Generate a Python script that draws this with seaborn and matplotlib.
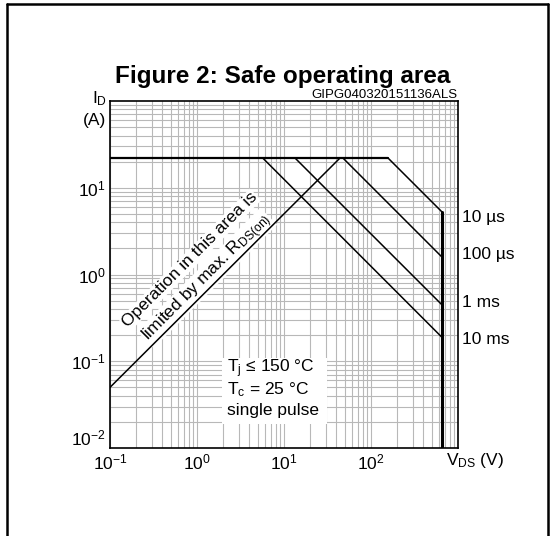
import numpy as np
import pandas as pd
import matplotlib
matplotlib.use("Agg")
import matplotlib.pyplot as plt
import seaborn as sns
from matplotlib.ticker import LogLocator, FixedLocator, FixedFormatter, NullFormatter
from matplotlib.lines import Line2D
from matplotlib.patches import Rectangle
import matplotlib.transforms as mtransforms

# ---------------- data ----------------
# current limit (A) and voltage rating (V)
id_max = 22.0
vds_max = 650.0
# R_DS(on) limit line: V_DS (V), I_D (A)
rds_v = [0.1, 44.0]
rds_i = [0.05, 22.0]
# current limit horizontal line
lim_v = [0.1, 157.0]
lim_i = [22.0, 22.0]
# pulse-width limit lines (start V on the current limit, end at V_DS max)
pulse_labels = ["10 µs", "100 µs", "1 ms", "10 ms"]
pulse_v_start = [157.0, 47.6, 13.4, 5.7]
pulse_i_end = [5.3, 1.6, 0.45, 0.19]
pulse_label_y = [4.6, 1.72, 0.48, 0.176]
# vertical V_DS max line
vert_v = [650.0, 650.0]
vert_i = [0.01, 5.3]

xtick_vals = [0.1, 1, 10, 100]
xtick_labels = [r"$\mathregular{10^{-1}}$", r"$\mathregular{10^{0}}$",
                r"$\mathregular{10^{1}}$", r"$\mathregular{10^{2}}$"]
ytick_vals = [0.01, 0.1, 1, 10]
ytick_labels = [r"$\mathregular{10^{-2}}$", r"$\mathregular{10^{-1}}$",
                r"$\mathregular{10^{0}}$", r"$\mathregular{10^{1}}$"]

cond_lines = [r"$\mathregular{T_j}$ ≤ 150 °C", r"$\mathregular{T_c}$ = 25 °C", "single pulse"]

# ---------------- style ----------------
sns.set_style("white")
plt.rcParams["font.family"] = ["Liberation Sans", "DejaVu Sans"]
plt.rcParams["text.color"] = "black"
plt.rcParams["mathtext.fontset"] = "custom"
plt.rcParams["mathtext.rm"] = "Liberation Sans"
plt.rcParams["mathtext.it"] = "Liberation Sans:italic"
plt.rcParams["mathtext.bf"] = "Liberation Sans:bold"

W, H = 553, 536
fig = plt.figure(figsize=(W / 100, H / 100), dpi=100)
fig.patch.set_facecolor("white")

def fx(x):
    return x / W

def fy(y):
    return 1 - y / H

L, R, T, B = 110, 458, 101, 448
ax = fig.add_axes([fx(L), fy(B), (R - L) / W, (B - T) / H])
ax.set_xscale("log")
ax.set_yscale("log")
ax.set_xlim(0.1, 1000)
ax.set_ylim(0.01, 100)

# grid
ax.xaxis.set_minor_locator(LogLocator(base=10, subs=np.arange(2, 10)))
ax.yaxis.set_minor_locator(LogLocator(base=10, subs=np.arange(2, 10)))
ax.xaxis.set_minor_formatter(NullFormatter())
ax.yaxis.set_minor_formatter(NullFormatter())
ax.grid(which="both", color="#b8b8b8", lw=0.8)
ax.set_axisbelow(True)

ax.xaxis.set_major_locator(FixedLocator(xtick_vals))
ax.xaxis.set_major_formatter(FixedFormatter(xtick_labels))
ax.yaxis.set_major_locator(FixedLocator(ytick_vals))
ax.yaxis.set_major_formatter(FixedFormatter(ytick_labels))
ax.tick_params(which="both", length=0, labelsize=12.5, pad=3, colors="black")
for s in ax.spines.values():
    s.set_color("black")
    s.set_linewidth(1.2)
# lowest y label sits above the corner
ax.yaxis.get_major_ticks()[0].label1.set_verticalalignment("bottom")

# lines
kw = dict(ax=ax, color="black", estimator=None, sort=False, legend=False, zorder=4)
sns.lineplot(x=rds_v, y=rds_i, lw=1.1, **kw)
sns.lineplot(x=lim_v, y=lim_i, lw=1.6, **kw)
for vs, ie in zip(pulse_v_start, pulse_i_end):
    sns.lineplot(x=[vs, vds_max], y=[id_max, ie], lw=1.1, **kw)
sns.lineplot(x=vert_v, y=vert_i, lw=2.2, **kw)

# pulse labels
trans = mtransforms.blended_transform_factory(ax.transAxes, ax.transData)
for lab, yv in zip(pulse_labels, pulse_label_y):
    ax.text(1.012, yv, lab, transform=trans, ha="left", va="center",
            fontsize=12.5, clip_on=False)

# rotated R_DS(on) text
ax.text(1.30, 0.912, r"limited by max. $\mathregular{R_{DS(on)}}$", rotation=45,
        rotation_mode="anchor", ha="center", va="center", fontsize=12.5,
        zorder=3.0, bbox=dict(facecolor="white", edgecolor="none", pad=0.5))
ax.text(0.831, 1.47, "Operation in this area is", rotation=45,
        rotation_mode="anchor", ha="center", va="center", fontsize=12.5,
        zorder=3.1, bbox=dict(facecolor="white", edgecolor="none", pad=0.5))

# conditions box
ax.add_patch(Rectangle((fx(222), fy(424)), (327 - 222) / W, (424 - 358) / H,
                       transform=fig.transFigure, facecolor="white",
                       edgecolor="none", zorder=2.5))
for txt, yp in zip(cond_lines, [369, 390, 411]):
    fig.text(fx(227), fy(yp), txt, ha="left", va="center", fontsize=12.5, zorder=5)

# axis labels
fig.text(fx(107), fy(99), r"$\mathregular{I_D}$", ha="right", va="center", fontsize=12.5)
fig.text(fx(106), fy(121), "(A)", ha="right", va="center", fontsize=12.5)
fig.text(fx(446), fy(461), r"$\mathregular{V_{DS}}$ (V)", ha="left", va="center", fontsize=12.5)

# title and code
fig.text(fx(283), fy(77), "Figure 2: Safe operating area", ha="center", va="center",
         fontsize=17.5, fontweight="bold")
fig.text(fx(458), fy(98), "GIPG040320151136ALS", ha="right", va="baseline", fontsize=9.5)

# frame
for xs, ys in [([7, 7], [4, H + 5]), ([7, 548], [4, 4]), ([548, 548], [4, H + 5])]:
    fig.add_artist(Line2D([fx(v) for v in xs], [fy(v) for v in ys],
                          transform=fig.transFigure, color="black", lw=1.8))

fig.savefig("out.png", dpi=100)
